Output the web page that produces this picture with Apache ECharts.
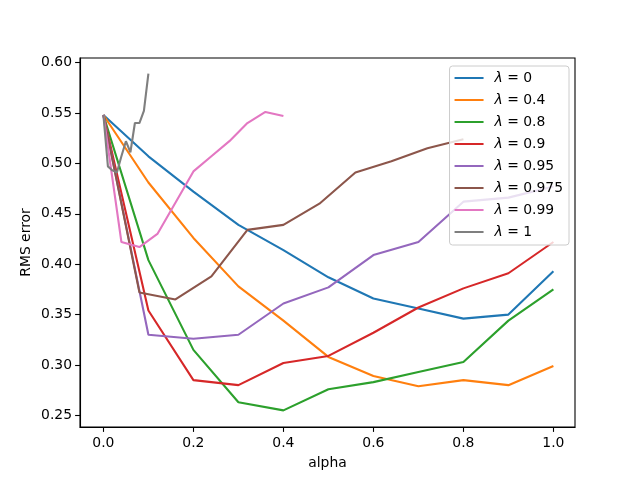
<!DOCTYPE html>
<html>
<head>
<meta charset="utf-8">
<script src="https://cdn.jsdelivr.net/npm/echarts@6/dist/echarts.min.js"></script>
<style>html,body{margin:0;padding:0;background:#fff}#c{width:640px;height:480px}</style>
</head>
<body>
<div id="c"></div>
<script>
const alphaA = [0, 0.1, 0.2, 0.3, 0.4, 0.5, 0.6, 0.7, 0.8, 0.9, 1.0];
const alphaB = [0, 0.08, 0.16, 0.24, 0.32, 0.40, 0.48, 0.56, 0.64, 0.72, 0.80];
const alphaC = [0, 0.04, 0.08, 0.12, 0.16, 0.20, 0.24, 0.28, 0.32, 0.36, 0.40];
const alphaD = [0, 0.01, 0.02, 0.03, 0.04, 0.05, 0.06, 0.07, 0.08, 0.09, 0.10];

const lam0    = [0.548, 0.507, 0.472, 0.439, 0.414, 0.387, 0.366, 0.356, 0.346, 0.350, 0.393];
const lam04   = [0.548, 0.481, 0.426, 0.378, 0.344, 0.308, 0.289, 0.279, 0.285, 0.280, 0.299];
const lam08   = [0.548, 0.404, 0.315, 0.263, 0.255, 0.276, 0.283, 0.293, 0.303, 0.344, 0.375];
const lam09   = [0.548, 0.354, 0.285, 0.280, 0.302, 0.309, 0.332, 0.357, 0.376, 0.391, 0.422];
const lam095  = [0.548, 0.330, 0.326, 0.330, 0.361, 0.377, 0.409, 0.422, 0.462, 0.466, 0.477];
const lam0975 = [0.548, 0.372, 0.365, 0.388, 0.434, 0.439, 0.460, 0.491, 0.502, 0.515, 0.524];
const lam099  = [0.548, 0.422, 0.417, 0.430, 0.461, 0.492, 0.507, 0.522, 0.540, 0.551, 0.547];
const lam1    = [0.548, 0.497, 0.493, 0.491, 0.507, 0.522, 0.511, 0.540, 0.540, 0.552, 0.589];

const names = ['0', '0.4', '0.8', '0.9', '0.95', '0.975', '0.99', '1'];
const xTicks = [0, 0.2, 0.4, 0.6, 0.8, 1.0];
const yTicks = [0.25, 0.30, 0.35, 0.40, 0.45, 0.50, 0.55, 0.60];
const colors = ['#1f77b4', '#ff7f0e', '#2ca02c', '#d62728', '#9467bd', '#8c564b', '#e377c2', '#7f7f7f'];

const seriesDefs = [
  [alphaA, lam0], [alphaA, lam04], [alphaA, lam08], [alphaA, lam09],
  [alphaA, lam095], [alphaB, lam0975], [alphaC, lam099], [alphaD, lam1]
];

const FONT = 'DejaVu Sans';
const chart = echarts.init(document.getElementById('c'), null, {renderer: 'canvas'});
chart.setOption({
  animation: false,
  color: colors,
  grid: {left: 80, right: 65, top: 58, bottom: 53, show: true, borderColor: '#000', borderWidth: 1.1, backgroundColor: 'transparent'},
  xAxis: {
    type: 'value', min: -0.052, max: 1.048,
    name: 'alpha', nameLocation: 'middle', nameGap: 29,
    nameTextStyle: {fontFamily: FONT, fontSize: 13.9, color: '#000'},
    axisLine: {show: true, onZero: false, lineStyle: {color: '#000', width: 1.1}},
    axisTick: {show: true, length: 4.9, lineStyle: {color: '#000', width: 1.1}, customValues: xTicks},
    axisLabel: {fontFamily: FONT, fontSize: 13.9, color: '#000', margin: 9, customValues: xTicks,
      formatter: v => v.toFixed(1)},
    splitLine: {show: false}
  },
  yAxis: {
    type: 'value', min: 0.2385, max: 0.6045,
    name: 'RMS error', nameLocation: 'middle', nameGap: 47, nameMoveOverlap: false,
    nameTextStyle: {fontFamily: FONT, fontSize: 13.9, color: '#000'},
    axisLine: {show: true, onZero: false, lineStyle: {color: '#000', width: 1.1}},
    axisTick: {show: true, length: 4.9, lineStyle: {color: '#000', width: 1.1}, customValues: yTicks},
    axisLabel: {fontFamily: FONT, fontSize: 13.9, color: '#000', margin: 8, customValues: yTicks,
      formatter: v => v.toFixed(2)},
    splitLine: {show: false}
  },
  legend: {
    orient: 'vertical', right: 71, top: 66,
    backgroundColor: 'rgba(255,255,255,0.8)', borderColor: '#cccccc', borderWidth: 1, borderRadius: 3,
    padding: [4, 6, 5, 5], itemGap: 6, itemWidth: 29, itemHeight: 2,
    icon: 'rect',
    textStyle: {fontFamily: FONT, fontSize: 13.9, color: '#000', lineHeight: 16, padding: [0, 0, 0, 6],
      rich: {i: {fontFamily: FONT, fontStyle: 'italic', fontSize: 13.9, color: '#000'}}},
    formatter: n => '{i|λ} = ' + n.replace('λ = ', ''),
    data: names.map(n => ({name: 'λ = ' + n}))
  },
  series: seriesDefs.map((d, i) => ({
    name: 'λ = ' + names[i],
    type: 'line',
    showSymbol: false,
    symbol: 'none',
    lineStyle: {width: 2.1},
    data: d[0].map((a, j) => [a, d[1][j]])
  }))
});
</script>
</body>
</html>
